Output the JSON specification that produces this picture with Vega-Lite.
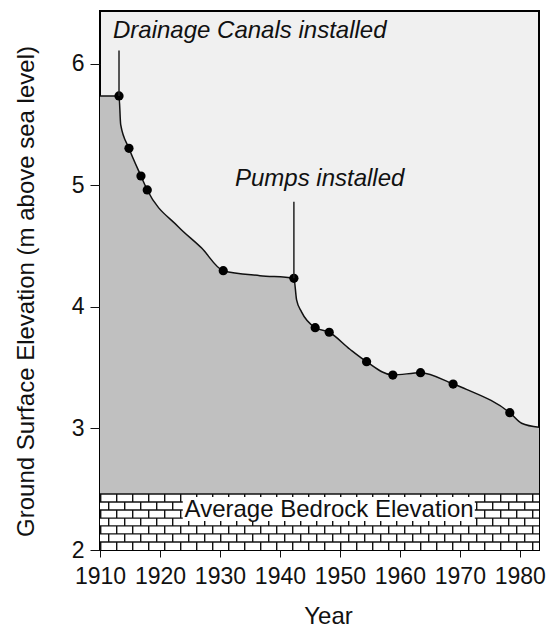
{
  "$schema": "https://vega.github.io/schema/vega-lite/v6.json",
  "width": 439,
  "height": 539,
  "autosize": {"type": "none"},
  "padding": {"left": 100, "top": 11, "right": 15, "bottom": 77},
  "background": "white",
  "config": {
    "view": {"fill": "#f0f0f0", "stroke": "#000000", "strokeWidth": 2},
    "font": "Liberation Sans",
    "axis": {
      "labelFont": "Liberation Sans",
      "titleFont": "Liberation Sans",
      "labelColor": "#111111",
      "titleColor": "#111111",
      "tickColor": "#111111",
      "domain": false,
      "grid": false,
      "titleFontWeight": "normal",
      "labelFlush": false,
      "labelOverlap": false,
      "labelBound": false
    }
  },
  "datasets": {
    "profile": [
      {"year": 1910, "elevation": 5.737},
      {"year": 1913.17, "elevation": 5.737},
      {"year": 1913.45, "elevation": 5.5},
      {"year": 1914.83, "elevation": 5.306},
      {"year": 1916.83, "elevation": 5.078},
      {"year": 1917.88, "elevation": 4.963},
      {"year": 1923.05, "elevation": 4.661},
      {"year": 1926.95, "elevation": 4.485},
      {"year": 1930.55, "elevation": 4.299},
      {"year": 1936.67, "elevation": 4.258},
      {"year": 1942.33, "elevation": 4.236},
      {"year": 1942.78, "elevation": 4.058},
      {"year": 1943.6, "elevation": 3.96},
      {"year": 1945.88, "elevation": 3.83},
      {"year": 1948.22, "elevation": 3.792},
      {"year": 1951.67, "elevation": 3.652},
      {"year": 1954.45, "elevation": 3.55},
      {"year": 1958.83, "elevation": 3.44},
      {"year": 1963.45, "elevation": 3.459},
      {"year": 1968.88, "elevation": 3.366},
      {"year": 1971.1, "elevation": 3.322},
      {"year": 1978.33, "elevation": 3.13},
      {"year": 1980.3, "elevation": 3.043},
      {"year": 1983.2, "elevation": 3.01}
    ],
    "surveys": [
      {"year": 1913.17, "elevation": 5.737},
      {"year": 1914.83, "elevation": 5.306},
      {"year": 1916.83, "elevation": 5.078},
      {"year": 1917.88, "elevation": 4.963},
      {"year": 1930.55, "elevation": 4.299},
      {"year": 1942.33, "elevation": 4.236},
      {"year": 1945.88, "elevation": 3.83},
      {"year": 1948.22, "elevation": 3.792},
      {"year": 1954.45, "elevation": 3.55},
      {"year": 1958.83, "elevation": 3.44},
      {"year": 1963.45, "elevation": 3.459},
      {"year": 1968.88, "elevation": 3.366},
      {"year": 1978.33, "elevation": 3.13}
    ],
    "bedrock": [
      {"year": 1910, "year_end": 1983.2, "elevation": 2.461, "base": 2}
    ],
    "courses": [
      {"year": 1910, "year_end": 1983.2, "top": 2.461, "middle": 2.428, "stagger": "a"},
      {"year": 1910, "year_end": 1983.2, "top": 2.395, "middle": 2.362, "stagger": "b"},
      {"year": 1910, "year_end": 1983.2, "top": 2.329, "middle": 2.296, "stagger": "a"},
      {"year": 1910, "year_end": 1983.2, "top": 2.263, "middle": 2.23, "stagger": "b"},
      {"year": 1910, "year_end": 1983.2, "top": 2.198, "middle": 2.165, "stagger": "a"},
      {"year": 1910, "year_end": 1983.2, "top": 2.132, "middle": 2.099, "stagger": "b"},
      {"year": 1910, "year_end": 1983.2, "top": 2.066, "middle": 2.033, "stagger": "a"}
    ],
    "bedrock_label": [
      {"label": "Average Bedrock Elevation", "year": 1948.2, "elevation": 2.33, "box_start": 1923.8, "box_end": 1972.5, "box_bottom": 2.239, "box_top": 2.436}
    ],
    "events": [
      {"event": "Drainage Canals installed", "year": 1913.17, "elevation": 5.737, "line_top": 6.11, "label_year": 1912.17, "label_elevation": 6.215},
      {"event": "Pumps installed", "year": 1942.33, "elevation": 4.236, "line_top": 4.867, "label_year": 1932.5, "label_elevation": 4.995}
    ]
  },
  "encoding": {
    "x": {
      "field": "year",
      "type": "quantitative",
      "scale": {"domain": [1910, 1983.2], "nice": false, "zero": false},
      "axis": {
        "title": "Year",
        "values": [1910, 1920, 1930, 1940, 1950, 1960, 1970, 1980],
        "format": "d",
        "tickSize": 7,
        "labelPadding": 8,
        "labelFontSize": 23,
        "titleFontSize": 24,
        "titleX": 228,
        "titleY": 73,
        "titleBaseline": "alphabetic",
        "titleAlign": "center"
      }
    },
    "y": {
      "field": "elevation",
      "type": "quantitative",
      "scale": {"domain": [2, 6.436], "nice": false, "zero": false},
      "axis": {
        "title": "Ground Surface Elevation (m above sea level)",
        "values": [2, 3, 4, 5, 6],
        "tickSize": 10,
        "labelPadding": 6,
        "labelFontSize": 23,
        "titleFontSize": 24,
        "titleAngle": 270,
        "titleX": -67,
        "titleY": 280,
        "titleBaseline": "alphabetic",
        "titleAlign": "center"
      }
    }
  },
  "layer": [
    {
      "data": {"name": "profile"},
      "mark": {"type": "area", "interpolate": "monotone", "fill": "#c0c0c0"},
      "encoding": {"y2": {"datum": 2.461}}
    },
    {
      "data": {"name": "bedrock"},
      "mark": {"type": "rect", "fill": "#ffffff"},
      "encoding": {"x2": {"field": "year_end"}, "y2": {"field": "base"}}
    },
    {
      "data": {"name": "courses"},
      "transform": [{"filter": "datum.stagger === 'a'"}],
      "mark": {"type": "rule", "color": "#111111", "strokeWidth": 8, "strokeDash": [1.4, 14.6], "strokeDashOffset": 0},
      "encoding": {"x2": {"field": "year_end"}, "y": {"field": "middle", "type": "quantitative"}}
    },
    {
      "data": {"name": "courses"},
      "transform": [{"filter": "datum.stagger === 'b'"}],
      "mark": {"type": "rule", "color": "#111111", "strokeWidth": 8, "strokeDash": [1.4, 14.6], "strokeDashOffset": 8},
      "encoding": {"x2": {"field": "year_end"}, "y": {"field": "middle", "type": "quantitative"}}
    },
    {
      "data": {"name": "courses"},
      "mark": {"type": "rule", "color": "#111111", "strokeWidth": 1.3},
      "encoding": {"x2": {"field": "year_end"}, "y": {"field": "top", "type": "quantitative"}}
    },
    {
      "data": {"name": "bedrock_label"},
      "mark": {"type": "rect", "fill": "#ffffff"},
      "encoding": {
        "x": {"field": "box_start", "type": "quantitative"},
        "x2": {"field": "box_end"},
        "y": {"field": "box_bottom", "type": "quantitative"},
        "y2": {"field": "box_top"}
      }
    },
    {
      "data": {"name": "bedrock_label"},
      "mark": {"type": "text", "fontSize": 24, "color": "#111111", "align": "center", "baseline": "middle"},
      "encoding": {"text": {"field": "label"}}
    },
    {
      "data": {"name": "profile"},
      "mark": {"type": "line", "interpolate": "monotone", "color": "#111111", "strokeWidth": 1.5}
    },
    {
      "data": {"name": "surveys"},
      "mark": {"type": "point", "filled": true, "color": "#000000", "size": 85, "opacity": 1}
    },
    {
      "data": {"name": "events"},
      "mark": {"type": "rule", "color": "#222222", "strokeWidth": 1.5},
      "encoding": {"y2": {"field": "line_top"}}
    },
    {
      "data": {"name": "events"},
      "mark": {"type": "text", "fontSize": 24, "fontStyle": "italic", "color": "#111111", "align": "left", "baseline": "alphabetic"},
      "encoding": {
        "x": {"field": "label_year", "type": "quantitative"},
        "y": {"field": "label_elevation", "type": "quantitative"},
        "text": {"field": "event"}
      }
    }
  ]
}
